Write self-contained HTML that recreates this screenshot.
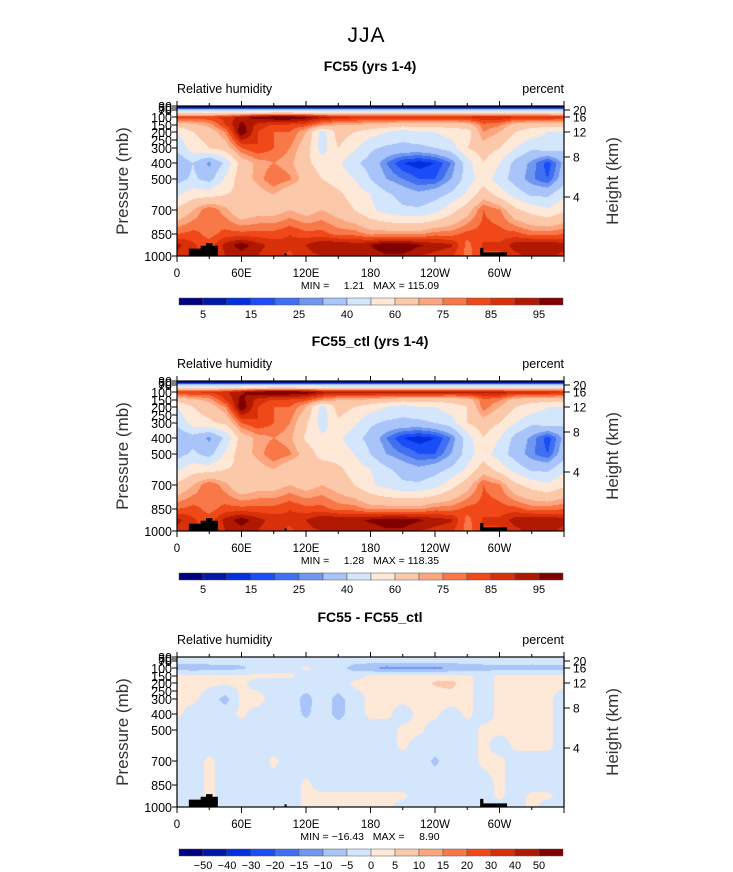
<!DOCTYPE html>
<html><head><meta charset="utf-8">
<style>
body{margin:0;background:#fff;}
#root{position:relative;width:733px;height:872px;overflow:hidden;font-family:"Liberation Sans",sans-serif;color:#000;}
.t{position:absolute;white-space:nowrap;}
canvas{position:absolute;}
svg{position:absolute;left:0;top:0;}
</style></head>
<body>
<div id="root">
<div class="t" style="left:0;width:733px;text-align:center;top:24px;font-size:21px;font-weight:300;letter-spacing:1px;">JJA</div>
<svg id="svg" width="733" height="872"></svg>
</div>
<script>
// ---------- data ----------
const lons = [0,15,30,45,60,75,90,105,120,135,150,165,180,195,210,225,240,255,270,285,300,315,330,345,360];
const levels = [30,50,70,100,150,200,300,400,500,600,700,850,925,1000];
const rhLevels = [5,10,15,20,25,30,40,50,60,70,75,80,85,90,95];
const rhTickLabels = ["5","15","25","40","60","75","85","95"];
const diffLevels = [-50,-40,-30,-20,-15,-10,-5,0,5,10,15,20,30,40,50];
const diffTickLabels = ["-50","-40","-30","-20","-15","-10","-5","0","5","10","15","20","30","40","50"];
const xTickLons = [0,60,120,180,240,300];
const xTickLabels = ["0","60E","120E","180","120W","60W"];
const pTicks = [30,50,70,100,150,200,250,300,400,500,700,850,1000];
const zTicks = [20,16,12,8,4];
const colors = ["#00007f","#0018a8","#0030e0","#1a4cf8","#4070f0","#7097f0","#a8c4f8","#d4e6fc","#fee8d8","#fcc8aa","#fca680","#f87848","#f04818","#d83008","#b01800","#800000"];

const rh1 = [
[3,3,3,3,3,3,3,3,3,3,3,3,3,3,3,3,3,3,3,3,3,3,3,3,3],
[10,10,10,10,10,10,10,10,10,10,10,10,10,10,10,10,10,10,10,10,10,10,10,10,10],
[38,38,38,38,38,38,38,38,38,38,38,38,38,38,38,38,38,38,38,38,38,38,38,38,38],
[84,84,84,87,92,98,100,100,98,92,90,88,88,88,88,88,88,88,88,90,90,88,88,88,86],
[64,68,72,85,97,88,84,84,82,74,70,70,68,66,64,64,64,64,66,78,76,66,64,64,64],
[50,60,65,75,100,85,80,80,70,45,65,60,55,50,45,50,50,55,55,75,70,60,55,50,50],
[42,55,60,65,80,85,80,75,65,45,60,52,42,38,37,37,40,45,60,66,60,50,42,45,42],
[32,40,28,42,65,72,75,72,62,56,52,42,36,25,15,12,15,25,45,60,50,36,28,17,32],
[36,42,36,52,66,72,80,76,66,60,56,50,40,30,25,20,20,30,45,55,45,35,26,20,36],
[48,56,56,60,62,66,70,62,62,66,62,56,50,42,36,32,36,42,52,66,56,46,38,38,48],
[62,70,80,72,62,66,66,70,66,70,66,60,52,46,42,42,46,56,66,80,76,62,56,52,58],
[80,82,78,82,82,82,82,85,82,82,78,78,74,74,74,74,78,78,82,82,82,82,78,78,80],
[92,86,82,92,98,92,88,86,90,95,95,93,95,100,100,96,93,91,78,86,86,93,95,95,92],
[88,86,82,90,92,90,86,84,88,90,90,90,92,94,94,90,88,86,78,84,84,88,92,92,88]];

const rh2 = [
[3,3,3,3,3,3,3,3,3,3,3,3,3,3,3,3,3,3,3,3,3,3,3,3,3],
[10,10,10,10,10,10,10,10,10,10,10,10,10,10,10,10,10,10,10,10,10,10,10,10,10],
[38,38,38,38,38,38,38,38,38,38,38,38,38,38,38,38,38,38,38,38,38,38,38,38,38],
[86,86,86,89,94,99,100,100,99,94,92,92,93,93,93,93,93,92,92,92,92,90,90,90,88],
[64,68,72,85,97,88,84,84,82,74,70,70,68,66,64,64,64,64,66,78,76,66,64,64,64],
[50,60,65,75,100,85,80,80,70,45,65,60,55,50,45,50,50,55,60,78,70,60,55,50,50],
[42,55,58,62,80,85,80,75,62,45,58,52,42,38,37,37,40,45,60,66,60,50,42,45,42],
[32,36,28,42,65,72,75,72,58,52,52,44,36,25,15,12,15,25,45,60,50,36,28,17,32],
[36,42,36,52,66,72,80,76,66,56,56,50,40,30,25,20,20,30,45,55,45,35,26,20,36],
[48,56,56,60,62,66,70,62,62,66,62,56,50,42,36,32,36,42,52,66,56,46,38,38,48],
[62,70,80,72,62,66,66,70,66,70,66,60,52,46,42,42,46,56,66,80,76,62,56,52,58],
[80,82,78,82,82,82,82,85,82,82,78,78,74,74,74,74,78,78,82,82,82,82,78,78,80],
[92,86,82,92,98,92,88,86,90,95,95,94,96,98,98,96,93,91,78,86,86,93,95,95,92],
[88,86,82,90,92,90,86,84,88,90,90,90,92,94,94,90,88,86,78,84,84,88,92,92,88]];

const diff = [
[-2,-2,-2,-2,-2,-2,-2,-2,-2,-2,-2,-2,-2,-2,-2,-2,-2,-2,-2,-2,-2,-2,-2,-2,-2],
[-2,-2,-2,-2,-2,-2,-2,-2,-2,-2,-2,-2,-2,-2,-2,-2,-2,-2,-2,-2,-2,-2,-2,-2,-2],
[-3,-3,-3,-3,-3,-3,-3,-3,-3,-3,-3,-3,-3,-3,-3,-3,-3,-3,-3,-3,-3,-3,-3,-3,-3],
[-7,-8,-7,-7,-6,-3,-2,-2,1,-2,-3,-7,-9,-12,-11,-11,-12,-9,-8,-7,-7,-7,-7,-7,-7],
[1,1,1,1,1,1,1,1,-2,-2,-2,-2,1,1,1,1,1,1,1,-2,1,1,1,1,1],
[1,1,1,1,1,-2,-2,-2,-2,-2,-2,1,1,1,1,1,6,7,1,-2,1,1,2,1,1],
[1,1,-2,-7,1,2,-2,-2,-7,-2,-7,-2,1,1,1,1,1,2,1,-2,1,1,1,1,-2],
[1,-2,-2,-2,1,-2,-2,-2,-6,-2,-7,-2,1,1,-2,1,1,-2,1,-2,1,1,1,1,-2],
[-2,-2,-2,-2,-2,-2,-2,-2,-2,-2,-2,-2,-2,-2,1,1,-2,-2,-2,1,1,1,1,1,-2],
[-2,-2,-2,-2,-2,-2,-2,-2,-2,-2,-2,-2,-2,-2,1,-2,-2,-2,-2,1,-2,1,1,1,-2],
[-2,-2,1,-2,-2,-2,1,-2,-2,-2,-2,-2,-2,-2,-2,-2,-6,-2,-2,1,1,-2,-2,-2,-2],
[-2,-2,1,-2,-2,-2,-2,-2,1,-2,-2,-2,-2,-2,-2,-2,-2,-2,-2,-2,1,-2,-2,-2,-2],
[-2,-2,1,-2,-2,-2,-2,-2,1,1,1,1,1,1,1,-2,-2,-2,-2,-2,1,-2,1,1,-2],
[-2,-2,1,-2,-2,-2,-2,-2,1,1,1,1,1,1,-2,-2,-2,-2,-2,-2,-2,-2,1,-2,-2]];

// land mask outlines in (lon, pressure)
const land1 = [[11,1000],[11,950],[22,950],[22,930],[27,930],[27,912],[33,912],[33,930],[38,930],[38,1000]];
const land2 = [[282,1000],[282,945],[285,945],[285,975],[307,975],[307,1000]];
const land3 = [[100,1000],[100,982],[102,982],[102,1000]];

// ---------- geometry ----------
const X0=177, W=387, H=150;
const pTab=[30,50,70,100,150,200,250,300,400,500,700,850,1000];
const yTab=[0,2,4,11,19,26,34,42,57,73,104,128,150];
function yOfP(p){for(let i=0;i<pTab.length-1;i++){if(p<=pTab[i+1]){return yTab[i]+(p-pTab[i])/(pTab[i+1]-pTab[i])*(yTab[i+1]-yTab[i]);}}return H;}
const zY=[4,11,26,51,91];
function yOfZ(z){return zY[zTicks.indexOf(z)];}
function xOfLon(l){return l/360*W;}
const NS="http://www.w3.org/2000/svg";
const svg=document.getElementById('svg');
const root=document.getElementById('root');
function sv(tag,at){const e=document.createElementNS(NS,tag);for(const k in at)e.setAttribute(k,at[k]);svg.appendChild(e);return e;}
function txt(s,x,y,size,anchor,name,extra){const e=sv('text',{x:x,y:y,'font-size':size,'text-anchor':anchor||'start','font-family':'Liberation Sans, sans-serif'});if(extra)for(const k in extra)e.setAttribute(k,extra[k]);e.textContent=s;


return e;}
function hex(c){return [parseInt(c.substr(1,2),16),parseInt(c.substr(3,2),16),parseInt(c.substr(5,2),16)];}
const rgb=colors.map(hex);

function panel(Y0,title,grid,bounds,ticks,minmax,name){
  txt(title,370,Y0-35,14,'middle',name+'-title',{'font-weight':'bold'});
  txt('Relative humidity',X0,Y0-13,12.5,'start',name+'-variable-label');
  txt('percent',X0+W,Y0-13,12.5,'end',name+'-units-label');
  const cv=document.createElement('canvas');cv.width=W;cv.height=H;cv.style.left=X0+'px';cv.style.top=Y0+'px';
  
  
  root.insertBefore(cv,svg);
  const ctx=cv.getContext('2d');const img=ctx.createImageData(W,H);
  const ly=levels.map(yOfP);
  for(let py=0;py<H;py++){
    const yy=py+0.5;let k=0;while(k<ly.length-2&&yy>ly[k+1])k++;
    let fy=(yy-ly[k])/(ly[k+1]-ly[k]);fy=Math.max(0,Math.min(1,fy));
    for(let px=0;px<W;px++){
      const lon=(px+0.5)/W*360;let j=Math.min(lons.length-2,Math.floor(lon/15));const fx=(lon-lons[j])/15;
      const v=(grid[k][j]*(1-fx)+grid[k][j+1]*fx)*(1-fy)+(grid[k+1][j]*(1-fx)+grid[k+1][j+1]*fx)*fy;
      let b=0;while(b<bounds.length&&v>=bounds[b])b++;
      const c=rgb[b];const o=(py*W+px)*4;img.data[o]=c[0];img.data[o+1]=c[1];img.data[o+2]=c[2];img.data[o+3]=255;}
  }
  ctx.putImageData(img,0,0);
  [land1,land2,land3].forEach((L,i)=>{const pts=L.map(q=>(X0+xOfLon(q[0]))+','+(Y0+yOfP(q[1]))).join(' ');
    const e=sv('polygon',{points:pts,fill:'#000'});
    
    });
  const f=sv('rect',{x:X0,y:Y0,width:W,height:H,fill:'none',stroke:'#000','stroke-width':1.2});
  
  
  for(let l=0;l<=360;l+=30){const x=X0+xOfLon(l);const maj=l%60==0;
    sv('line',{x1:x,x2:x,y1:Y0,y2:Y0-(maj?5:3),stroke:'#000'});
    sv('line',{x1:x,x2:x,y1:Y0+H,y2:Y0+H+(maj?6:3),stroke:'#000'});}
  xTickLons.forEach((l,i)=>txt(xTickLabels[i],X0+xOfLon(l),Y0+H+21,11.5,'middle',name+'-x-tick-label'));
  pTicks.forEach(p=>{const y=Y0+yOfP(p);sv('line',{x1:X0,x2:X0-5,y1:y,y2:y,stroke:'#000'});
    txt(String(p),X0-5,y+5,12.5,'end',name+'-y-tick-label');});
  zTicks.forEach(z=>{const y=Y0+yOfZ(z);sv('line',{x1:X0+W,x2:X0+W+6,y1:y,y2:y,stroke:'#000'});
    txt(String(z),X0+W+9,y+4.5,12,'start',name+'-height-tick-label');});
  txt('Pressure (mb)',0,0,17,'middle',name+'-y-axis-title',{transform:`translate(128,${Y0+H/2}) rotate(-90)`,fill:'#333'});
  txt('Height (km)',0,0,17,'middle',name+'-right-axis-title',{transform:`translate(618,${Y0+H/2}) rotate(-90)`,fill:'#333'});
  txt(minmax,370,Y0+H+33,10.5,'middle',name+'-min-max-text',{'xml:space':'preserve',style:'white-space:pre'});
  const cy=Y0+192,cx=179,cw=384/16;
  colors.forEach((c,i)=>{const r=sv('rect',{x:cx+i*cw,y:cy,width:cw,height:7,fill:c,stroke:'#555','stroke-width':0.5});
    
    });
  const step=ticks.length<10?2:1;
  ticks.forEach((s,i)=>txt(s.replace('-','\u2212'),cx+(i*step+1)*cw,cy+20,11,'middle',name+'-colorbar-label'));
}
panel(106,'FC55 (yrs 1-4)',rh1,rhLevels,rhTickLabels,'MIN =     1.21   MAX = 115.09','panel-fc55');
panel(381,'FC55_ctl (yrs 1-4)',rh2,rhLevels,rhTickLabels,'MIN =     1.28   MAX = 118.35','panel-ctl');
panel(657,'FC55 - FC55_ctl',diff,diffLevels,diffTickLabels,'MIN = \u221216.43   MAX =     8.90','panel-diff');
</script>
</body></html>
